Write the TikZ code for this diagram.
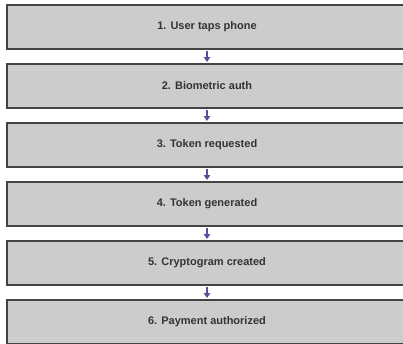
\documentclass[tikz,border=0pt]{standalone}
\usepackage{fontspec}
\setmainfont{Liberation Sans}
\usetikzlibrary{arrows.meta}
\definecolor{boxfill}{HTML}{CCCCCC}
\definecolor{boxline}{HTML}{444444}
\definecolor{arrowc}{HTML}{5C4F9A}
\definecolor{txt}{HTML}{333333}
\begin{document}
\begin{tikzpicture}[x=1pt,y=1pt,
  stepbox/.style={draw=boxline, fill=boxfill, line width=2pt, rectangle,
    minimum width=400pt, minimum height=44pt, inner sep=0pt,
    font=\fontsize{11}{13}\selectfont\bfseries, text=txt},
  flow/.style={draw=arrowc, line width=1.6pt, -{Triangle[width=6.5pt,length=5pt]},
    shorten <=1pt, shorten >=1pt}]
\useasboundingbox (0,0) rectangle (403,-343);
\node[stepbox] (b1) at (207,-27) {1. User taps phone};
\node[stepbox] (b2) at (207,-86) {2. Biometric auth};
\node[stepbox] (b3) at (207,-145) {3. Token requested};
\node[stepbox] (b4) at (207,-204) {4. Token generated};
\node[stepbox] (b5) at (207,-263) {5. Cryptogram created};
\node[stepbox] (b6) at (207,-322) {6. Payment authorized};
\draw[flow] (b1.south) -- (b2.north);
\draw[flow] (b2.south) -- (b3.north);
\draw[flow] (b3.south) -- (b4.north);
\draw[flow] (b4.south) -- (b5.north);
\draw[flow] (b5.south) -- (b6.north);
\end{tikzpicture}
\end{document}
